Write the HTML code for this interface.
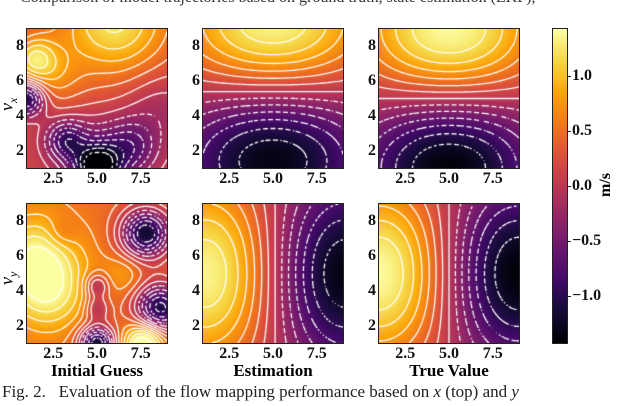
<!DOCTYPE html>
<html><head><meta charset="utf-8">
<style>
body{margin:0;background:#fff;}
#root{position:relative;width:640px;height:406px;overflow:hidden;background:#fff;font-family:"Liberation Serif",serif;}
canvas.panel{position:absolute;width:140px;height:139px;outline:1px solid #222;}
.t{position:absolute;font-weight:bold;font-size:16px;color:#111;white-space:nowrap;}
.xt{transform:translateX(-50%);}
.yt{transform:translateY(-50%);text-align:right;width:14px;}
.title{position:absolute;font-weight:bold;font-size:17px;transform:translateX(-50%);white-space:nowrap;}
</style></head>
<body>
<div id="root">
<div style="position:absolute;left:20px;top:-11px;font-size:16px;color:#333;white-space:nowrap;">Comparison of model trajectories based on ground truth, state estimation (EKF),</div>
<div style="position:absolute;left:2px;top:92px;font-style:italic;font-size:18px;transform:rotate(-90deg);">v<sub style="font-size:12px">x</sub></div>
<div style="position:absolute;left:2px;top:266px;font-style:italic;font-size:18px;transform:rotate(-90deg);">v<sub style="font-size:12px">y</sub></div>
<div class="title" style="left:97px;top:361px;">Initial Guess</div>
<div class="title" style="left:273px;top:361px;">Estimation</div>
<div class="title" style="left:449px;top:361px;">True Value</div>
<div style="position:absolute;left:2px;top:382px;font-size:17px;color:#222;white-space:nowrap;">Fig. 2.&nbsp;&nbsp; Evaluation of the flow mapping performance based on <i>x</i> (top) and <i>y</i></div>
<canvas id="cbar" width="14" height="314" style="position:absolute;left:553px;top:29px;width:14px;height:314px;outline:1px solid #222;"></canvas>
<div style="position:absolute;left:594px;top:176px;font-weight:bold;font-size:16px;transform:rotate(-90deg);">m/s</div>
</div>
<script>
// ---- data ----
const xTicks=[2.5,5.0,7.5];
const yTicks=[2,4,6,8];
const cbTicks=[1.0,0.5,0.0,-0.5,-1.0];
const vmin=-1.43, vmax=1.43;
const levels=[-1.4,-1.2,-1.0,-0.8,-0.6,-0.4,-0.2,0,0.2,0.4,0.6,0.8,1.0,1.2,1.4];
// initial guess bumps: [x, y, amplitude, sigma]
const guessVxBumps=[[1.4,7.3,0.9,0.9],[1.0,5.0,-1.3,0.7],[3.2,2.6,-0.9,0.8],[5.0,1.0,-1.5,0.9],[7.0,2.2,-0.7,1.1],[5.0,1.8,-0.5,1.5],[6.0,9.5,1.1,2.3],[2.5,6.2,0.4,1.2],[8.5,4.5,-0.3,1.4]];
const guessVxBase=[0.15];
const guessVyBumps=[[1.5,6.0,0.8,1.7],[2.2,3.8,0.7,1.6],[7.8,7.3,-1.7,1.0],[8.6,3.0,-1.6,1.0],[5.0,1.0,-1.7,0.7],[7.7,1.0,1.3,0.8],[3.0,7.3,-0.25,0.6],[5.0,4.3,-0.7,0.5],[5.0,3.0,-0.6,0.5],[6.5,5.0,0.3,0.8]];
const guessVyBase=[0.5];
// analytic field amplitudes: [peak, edge fraction, zero shift]
const trueParams=[1.4,0.55,0];
const estParams=[1.35,0.6,0.4];

const root=document.getElementById('root');
function cmap(t){
  const s=[[0,0,0,4],[.1,22,11,57],[.2,66,10,104],[.3,106,23,110],[.4,147,38,103],[.5,188,55,84],[.6,221,81,58],[.7,243,120,25],[.8,252,165,10],[.9,246,215,70],[1,252,255,164]];
  t=Math.max(0,Math.min(1,t));
  for(let i=1;i<s.length;i++){if(t<=s[i][0]){const a=s[i-1],b=s[i],f=(t-a[0])/(b[0]-a[0]);return [a[1]+f*(b[1]-a[1]),a[2]+f*(b[2]-a[2]),a[3]+f*(b[3]-a[3])];}}
  return s[s.length-1].slice(1);
}
function bumps(B,base){return (x,y)=>{let v=base[0];for(const b of B){const dx=x-b[0],dy=y-b[1];v+=b[2]*Math.exp(-(dx*dx+dy*dy)/(2*b[3]*b[3]));}return Math.max(-1.42,Math.min(1.42,v));};}
function fx(p){return (x,y)=>-p[0]*Math.cos(Math.PI*(y-1-p[2])/8)*(p[1]+(1-p[1])*Math.sin(Math.PI*(x-1)/8));}
function fy(p){return (x,y)=>p[0]*Math.cos(Math.PI*(x-1-p[2]*0.3)/8)*(p[1]+(1-p[1])*Math.sin(Math.PI*(y-1)/8));}
const panels=[
 [27,29,bumps(guessVxBumps,guessVxBase),'heatmap-vx-initial'],
 [203,29,fx(estParams),'heatmap-vx-estimation'],
 [379,29,fx(trueParams),'heatmap-vx-true'],
 [27,204,bumps(guessVyBumps,guessVyBase),'heatmap-vy-initial'],
 [203,204,fy(estParams),'heatmap-vy-estimation'],
 [379,204,fy(trueParams),'heatmap-vy-true']];
const PW=140,PH=139;
function xs(v){return (v-1)/8*PW;}
function ys(v){return PH-(v-1)/8*PH;}
function addText(cls,txt,l,t,name){const d=document.createElement('div');d.className='t '+cls;d.textContent=txt;d.style.left=l+'px';d.style.top=t+'px';


root.appendChild(d);}
panels.forEach(([L,T,f,name])=>{
  const c=document.createElement('canvas');c.className='panel';c.width=PW;c.height=PH;c.style.left=L+'px';c.style.top=T+'px';
  
  
  root.appendChild(c);
  const ctx=c.getContext('2d');const img=ctx.createImageData(PW,PH);
  for(let j=0;j<PH;j++)for(let i=0;i<PW;i++){const x=1+(i+0.5)/PW*8,y=1+(PH-j-0.5)/PH*8;const col=cmap((f(x,y)-vmin)/(vmax-vmin));const k=(j*PW+i)*4;img.data[k]=col[0];img.data[k+1]=col[1];img.data[k+2]=col[2];img.data[k+3]=255;}
  ctx.putImageData(img,0,0);
  const N=56;const g=[];
  for(let j=0;j<=N;j++){g.push([]);for(let i=0;i<=N;i++)g[j].push(f(1+i/N*8,1+j/N*8));}
  ctx.strokeStyle='#fff';ctx.lineWidth=1.3;
  levels.forEach(lv=>{
    ctx.beginPath();
    for(let j=0;j<N;j++)for(let i=0;i<N;i++){
      if(lv<0&&(i+j)%3==2)continue;
      const a=g[j][i],b=g[j][i+1],cc=g[j+1][i+1],d=g[j+1][i];
      const pts=[];
      const e=(p,q,x1,y1,x2,y2)=>{if((p<lv)!==(q<lv)){const t=(lv-p)/(q-p);pts.push([x1+t*(x2-x1),y1+t*(y2-y1)]);}};
      e(a,b,i,j,i+1,j);e(b,cc,i+1,j,i+1,j+1);e(d,cc,i,j+1,i+1,j+1);e(a,d,i,j,i,j+1);
      for(let k=0;k+1<pts.length;k+=2){
        const P=pts[k],Q=pts[k+1];
        ctx.moveTo(P[0]/N*PW,PH-P[1]/N*PH);ctx.lineTo(Q[0]/N*PW,PH-Q[1]/N*PH);
      }
    }
    ctx.stroke();
  });
  xTicks.forEach(v=>addText('xt',v.toFixed(1),L+xs(v),T+PH+2,'x-tick-'+v));
  yTicks.forEach(v=>addText('yt',String(v),L-17,T+ys(v),'y-tick-'+v));
});
(function(){const c=document.getElementById('cbar');const ctx=c.getContext('2d');
for(let j=0;j<314;j++){const col=cmap(1-j/313);ctx.fillStyle='rgb('+col.map(Math.round).join(',')+')';ctx.fillRect(0,j,14,1);}
cbTicks.forEach(v=>{const y=29+(vmax-v)/(vmax-vmin)*314;
 const tk=document.createElement('div');tk.style.cssText='position:absolute;left:567px;width:4px;height:1px;background:#222;top:'+y+'px';
 
 
 root.appendChild(tk);
 addText('yt',(v<0?'\u2212':'')+Math.abs(v).toFixed(1),572,y,'colorbar-tick-'+v);
 root.lastChild.style.textAlign='left';root.lastChild.style.width='auto';});
})();
</script>
</body></html>
